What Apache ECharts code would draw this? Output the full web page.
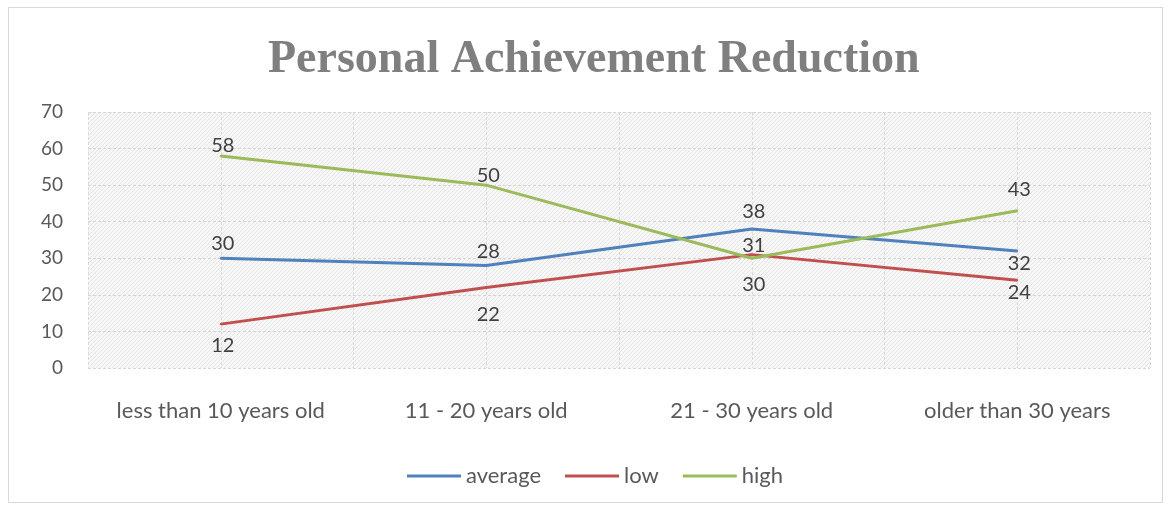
<!DOCTYPE html>
<html>
<head>
<meta charset="utf-8">
<script src="https://cdn.jsdelivr.net/npm/echarts@6/dist/echarts.min.js"></script>
<style>
  html, body { margin: 0; padding: 0; background: #fff; }
  #frame { position: absolute; left: 8px; top: 7px; width: 1155px; height: 496px; border: 1.5px solid #d9d9d9; box-sizing: border-box; }
  #chart { position: absolute; left: 0; top: 0; width: 1172px; height: 508px; }
</style>
</head>
<body>
<div id="frame"></div>
<div id="chart"></div>
<script>
const categories = ['less than 10 years old', '11 - 20 years old', '21 - 30 years old', 'older than 30 years'];
const averageValues = [30, 28, 38, 32];
const lowValues = [12, 22, 31, 24];
const highValues = [58, 50, 30, 43];
const yTicks = [0, 10, 20, 30, 40, 50, 60, 70];

// vertical shift of each value label from its point (px, negative = above)
const averageLabelShift = [-15, -14, -17, 13];
const lowLabelShift = [21, 27, -9, 12];
const highLabelShift = [-10, -10, 26, -21];

// fine diagonal hatch for the plot area
function hatchPattern() {
  const c = document.createElement('canvas');
  c.width = 4; c.height = 4;
  const g = c.getContext('2d');
  g.fillStyle = '#f7f7f7';
  g.fillRect(0, 0, 4, 4);
  g.strokeStyle = '#e6e6e6';
  g.lineWidth = 1;
  g.beginPath();
  g.moveTo(0, 4); g.lineTo(4, 0);
  g.moveTo(-1, 1); g.lineTo(1, -1);
  g.moveTo(3, 5); g.lineTo(5, 3);
  g.stroke();
  return { image: c, repeat: 'repeat' };
}

const labelFont = { fontFamily: 'Lato, "Open Sans", sans-serif', fontSize: 20, color: '#404040' };

function lineSeries(name, values, color, shifts) {
  return {
    name: name,
    type: 'line',
    symbol: 'circle',
    symbolSize: 2,
    showSymbol: true,
    lineStyle: { color: color, width: 3 },
    itemStyle: { color: color },
    labelLayout: { hideOverlap: false },
    data: values.map((v, i) => ({
      value: v,
      label: Object.assign({
        show: true,
        position: [3, 1 + shifts[i]],
        align: 'center',
        verticalAlign: 'middle'
      }, labelFont)
    }))
  };
}

const chart = echarts.init(document.getElementById('chart'), null, { renderer: 'canvas' });
chart.setOption({
  backgroundColor: 'transparent',
  animation: false,
  title: {
    text: 'Personal Achievement Reduction',
    left: 263,
    top: 32,
    textStyle: { fontFamily: '"Liberation Serif", "DejaVu Serif", serif', fontWeight: 'bold', fontSize: 46, color: '#7f7f7f' }
  },
  legend: {
    top: 460,
    left: 402,
    itemWidth: 54,
    itemHeight: 3,
    itemGap: 24,
    icon: 'rect',
    textStyle: { fontFamily: 'Lato, sans-serif', fontSize: 22, color: '#595959' },
    data: ['average', 'low', 'high']
  },
  grid: {
    left: 88, right: 22, top: 112, bottom: 140,
    show: true,
    borderWidth: 0,
    backgroundColor: hatchPattern()
  },
  xAxis: [
    {
      type: 'category',
      data: categories,
      boundaryGap: true,
      axisLine: { show: false },
      axisTick: { show: false },
      splitLine: { show: false },
      axisLabel: { interval: 0, margin: 32, fontFamily: 'Lato, sans-serif', fontSize: 22, color: '#595959' }
    },
    {
      type: 'value',
      min: 0, max: 8, interval: 1,
      position: 'bottom',
      axisLine: { show: false },
      axisTick: { show: false },
      axisLabel: { show: false },
      splitLine: { show: true, lineStyle: { color: '#dcdcdc', type: [3, 2], width: 1 } }
    }
  ],
  yAxis: {
    type: 'value',
    min: yTicks[0],
    max: yTicks[yTicks.length - 1],
    interval: 10,
    axisLine: { show: false },
    axisTick: { show: false },
    axisLabel: { margin: 25, fontFamily: 'Lato, sans-serif', fontSize: 19, color: '#595959' },
    splitLine: { show: true, lineStyle: { color: '#d6d6d6', type: [3, 2], width: 1 } }
  },
  series: [
    lineSeries('average', averageValues, '#4f81bd', averageLabelShift),
    lineSeries('low', lowValues, '#c0504d', lowLabelShift),
    lineSeries('high', highValues, '#9bbb59', highLabelShift)
  ]
});
</script>
</body>
</html>
